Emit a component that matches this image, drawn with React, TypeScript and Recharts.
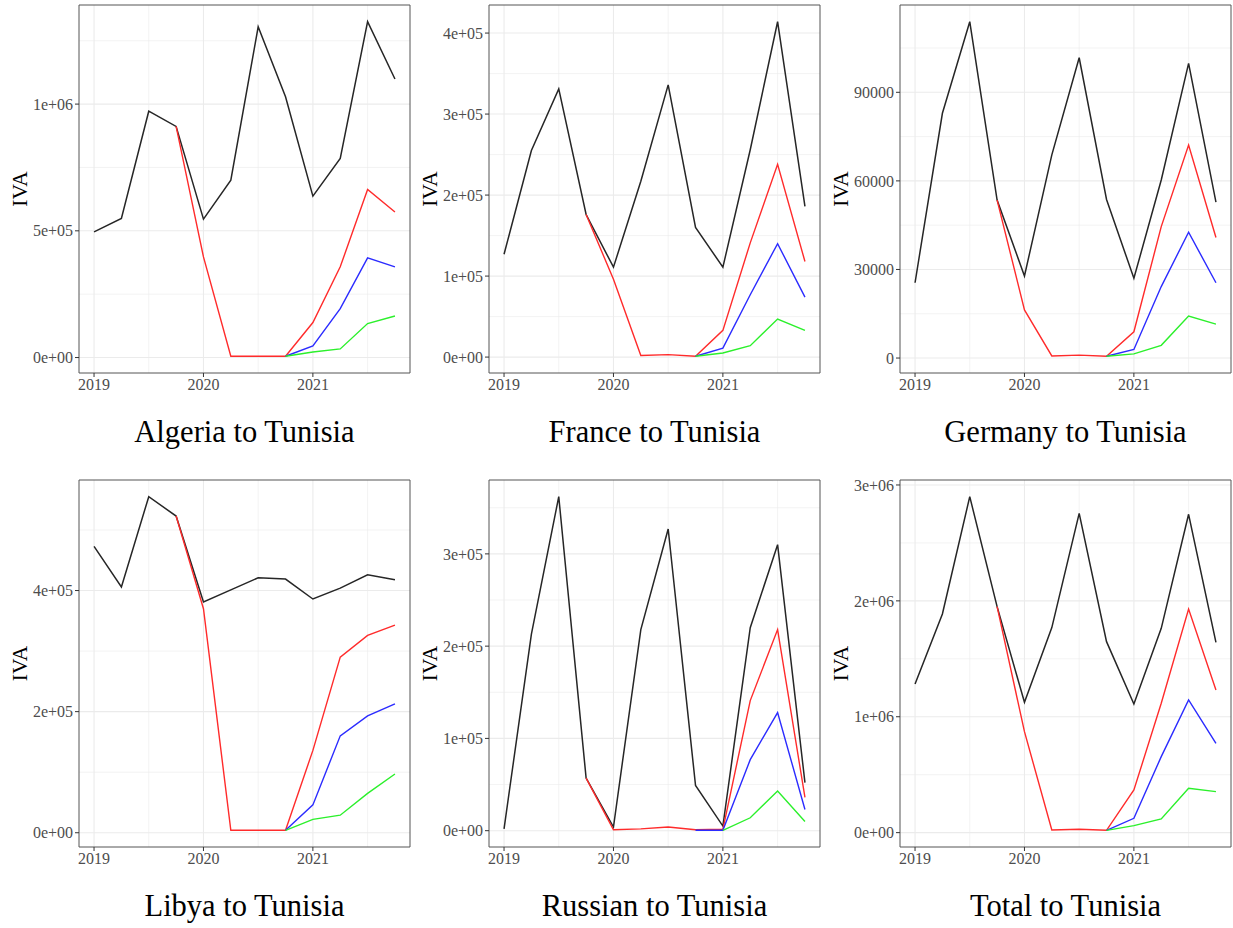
import { LineChart, Line, XAxis, YAxis, CartesianGrid, ReferenceArea } from 'recharts'

// quarterly time index
const quarters = [2019, 2019.25, 2019.5, 2019.75, 2020, 2020.25, 2020.5, 2020.75, 2021, 2021.25, 2021.5, 2021.75]
const yearTicks = [2019, 2020, 2021]
const yearMinor = [2019.5, 2020.5, 2021.5]

const algeriaBlack = [496000, 549000, 972000, 912000, 546000, 700000, 1305000, 1029000, 637000, 786000, 1325000, 1099000]
const algeriaRed = [null, null, null, 912000, 397000, 5000, 5000, 5000, 138000, 358000, 663000, 574000]
const algeriaBlue = [null, null, null, null, null, null, null, 5000, 46000, 193000, 393000, 358000]
const algeriaGreen = [null, null, null, null, null, null, null, 5000, 22000, 34000, 134000, 164000]

const franceBlack = [127000, 255000, 331000, 176000, 111000, 217000, 336000, 160000, 111000, 256000, 414000, 186000]
const franceRed = [null, null, null, 176000, 96000, 2000, 3000, 1000, 33000, 141000, 238000, 118000]
const franceBlue = [null, null, null, null, null, null, null, 1000, 11000, 77000, 140000, 74000]
const franceGreen = [null, null, null, null, null, null, null, 1000, 5000, 14000, 47000, 33000]

const germanyBlack = [25500, 82900, 113900, 53500, 27800, 68800, 101700, 53700, 27000, 60300, 99800, 52800]
const germanyRed = [null, null, null, 53500, 16300, 700, 1000, 600, 8900, 44500, 72100, 40800]
const germanyBlue = [null, null, null, null, null, null, null, 600, 2900, 24200, 42600, 25500]
const germanyGreen = [null, null, null, null, null, null, null, 600, 1400, 4300, 14200, 11500]

const libyaBlack = [473000, 406000, 555000, 523000, 381000, 401000, 421000, 419000, 386000, 404000, 426000, 418000]
const libyaRed = [null, null, null, 523000, 370000, 4000, 4000, 4000, 136000, 290000, 326000, 343000]
const libyaBlue = [null, null, null, null, null, null, null, 4000, 46000, 160000, 193000, 213000]
const libyaGreen = [null, null, null, null, null, null, null, 4000, 22000, 29000, 65000, 97000]

const russiaBlack = [2000, 213000, 362000, 57000, 4000, 218000, 327000, 49000, 5000, 220000, 310000, 52000]
const russiaRed = [null, null, null, 57000, 1000, 2000, 4000, 1000, 1500, 141000, 218000, 36000]
const russiaBlue = [null, null, null, null, null, null, null, 500, 400, 77000, 128000, 23000]
const russiaGreen = [null, null, null, null, null, null, null, null, 400, 14000, 43000, 10000]

const totalBlack = [1283000, 1887000, 2899000, 1950000, 1125000, 1769000, 2755000, 1648000, 1110000, 1763000, 2747000, 1642000]
const totalRed = [null, null, null, 1950000, 871000, 23000, 29000, 20000, 368000, 1116000, 1930000, 1231000]
const totalBlue = [null, null, null, null, null, null, null, 20000, 124000, 656000, 1145000, 771000]
const totalGreen = [null, null, null, null, null, null, null, 20000, 60000, 118000, 383000, 354000]

const algeriaTicks = [0, 500000, 1000000]
const franceTicks = [0, 100000, 200000, 300000, 400000]
const germanyTicks = [0, 30000, 60000, 90000]
const libyaTicks = [0, 200000, 400000]
const russiaTicks = [0, 100000, 200000, 300000]
const totalTicks = [0, 1000000, 2000000, 3000000]

const SERIF = '"Liberation Serif", "Times New Roman", serif'
const COLORS = { black: '#262626', red: '#ff2b2b', blue: '#2b2bff', green: '#2bf02b' }

const sci = (v: number) => {
  if (v === 0) return '0e+00'
  const e = Math.floor(Math.log10(Math.abs(v)))
  const m = Math.round((v / Math.pow(10, e)) * 100) / 100
  return `${m}e+${String(e).padStart(2, '0')}`
}
const plain = (v: number) => String(v)

interface PanelProps {
  title: string
  black: (number | null)[]
  red: (number | null)[]
  blue: (number | null)[]
  green: (number | null)[]
  ticks: number[]
  format: (v: number) => string
  left: number
  top: number
  marginTop: number
  plotHeight: number
  height: number
}

function Panel({ title, black, red, blue, green, ticks, format, left, top, marginTop, plotHeight, height }: PanelProps) {
  const data = quarters.map((q, i) => ({ q, black: black[i], red: red[i], blue: blue[i], green: green[i] }))
  const all = [...black, ...red, ...blue, ...green].filter((v): v is number => v !== null)
  const lo = Math.min(...all)
  const hi = Math.max(...all)
  const pad = (hi - lo) * 0.05
  const yDomain = [lo - pad, hi + pad]
  const xDomain = [quarters[0] - 0.1375, quarters[quarters.length - 1] + 0.1375]

  const step = ticks[1] - ticks[0]
  const minor = [...ticks, ticks[ticks.length - 1] + step]
    .map((t) => t - step / 2)
    .filter((t) => t > yDomain[0] && t < yDomain[1])

  const width = 411
  const axisH = height - marginTop - plotHeight

  return (
    <div style={{ position: 'absolute', left, top }}>
      <LineChart width={width} height={height} data={data} margin={{ top: marginTop, right: 1, bottom: 0, left: 0 }}>
        <CartesianGrid horizontalValues={minor} verticalValues={yearMinor} stroke="#EBEBEB" strokeWidth={0.6} />
        <CartesianGrid horizontalValues={ticks} verticalValues={yearTicks} stroke="#EBEBEB" strokeWidth={1.1} />
        <XAxis
          dataKey="q"
          type="number"
          domain={xDomain}
          ticks={yearTicks}
          allowDataOverflow
          height={axisH}
          axisLine={false}
          tickSize={4}
          tickMargin={2}
          tickLine={{ stroke: '#333333' }}
          tick={{ fill: '#4D4D4D', fontSize: 16, fontFamily: SERIF }}
          label={{
            content: ({ viewBox }: any) => (
              <text
                x={viewBox.x + viewBox.width / 2}
                y={viewBox.y + 69}
                textAnchor="middle"
                fontFamily={SERIF}
                fontSize={30.5}
                fill="#000"
              >
                {title}
              </text>
            ),
          }}
        />
        <YAxis
          type="number"
          domain={yDomain}
          ticks={ticks}
          allowDataOverflow
          width={79}
          axisLine={false}
          tickSize={4}
          tickMargin={2}
          tickLine={{ stroke: '#333333' }}
          tickFormatter={format}
          tick={{ fill: '#4D4D4D', fontSize: 16, fontFamily: SERIF }}
          label={{
            content: ({ viewBox }: any) => {
              const cx = viewBox.x + 27
              const cy = viewBox.y + viewBox.height / 2
              return (
                <text
                  x={cx}
                  y={cy}
                  textAnchor="middle"
                  transform={`rotate(-90, ${cx}, ${cy})`}
                  fontFamily={SERIF}
                  fontSize={21.5}
                  fill="#000"
                >
                  IVA
                </text>
              )
            },
          }}
        />
        <Line dataKey="black" stroke={COLORS.black} strokeWidth={1.5} dot={false} isAnimationActive={false} />
        <Line dataKey="red" stroke={COLORS.red} strokeWidth={1.4} dot={false} isAnimationActive={false} />
        <Line dataKey="blue" stroke={COLORS.blue} strokeWidth={1.4} dot={false} isAnimationActive={false} />
        <Line dataKey="green" stroke={COLORS.green} strokeWidth={1.4} dot={false} isAnimationActive={false} />
        <ReferenceArea
          x1={xDomain[0]}
          x2={xDomain[1]}
          y1={yDomain[0]}
          y2={yDomain[1]}
          fill="none"
          stroke="#555555"
          strokeWidth={1}
          ifOverflow="visible"
        />
      </LineChart>
    </div>
  )
}

export default function App() {
  return (
    <div style={{ position: 'absolute', left: 0, top: 0, width: 1233, height: 928, background: '#fff' }}>
      <Panel title="Algeria to Tunisia" black={algeriaBlack} red={algeriaRed} blue={algeriaBlue} green={algeriaGreen}
        ticks={algeriaTicks} format={sci} left={0} top={0} marginTop={5} plotHeight={368} height={460} />
      <Panel title="France to Tunisia" black={franceBlack} red={franceRed} blue={franceBlue} green={franceGreen}
        ticks={franceTicks} format={sci} left={410} top={0} marginTop={5} plotHeight={368} height={460} />
      <Panel title="Germany to Tunisia" black={germanyBlack} red={germanyRed} blue={germanyBlue} green={germanyGreen}
        ticks={germanyTicks} format={plain} left={821} top={0} marginTop={5} plotHeight={368} height={460} />
      <Panel title="Libya to Tunisia" black={libyaBlack} red={libyaRed} blue={libyaBlue} green={libyaGreen}
        ticks={libyaTicks} format={sci} left={0} top={460} marginTop={20} plotHeight={367} height={468} />
      <Panel title="Russian to Tunisia" black={russiaBlack} red={russiaRed} blue={russiaBlue} green={russiaGreen}
        ticks={russiaTicks} format={sci} left={410} top={460} marginTop={20} plotHeight={367} height={468} />
      <Panel title="Total to Tunisia" black={totalBlack} red={totalRed} blue={totalBlue} green={totalGreen}
        ticks={totalTicks} format={sci} left={821} top={460} marginTop={20} plotHeight={367} height={468} />
    </div>
  )
}
